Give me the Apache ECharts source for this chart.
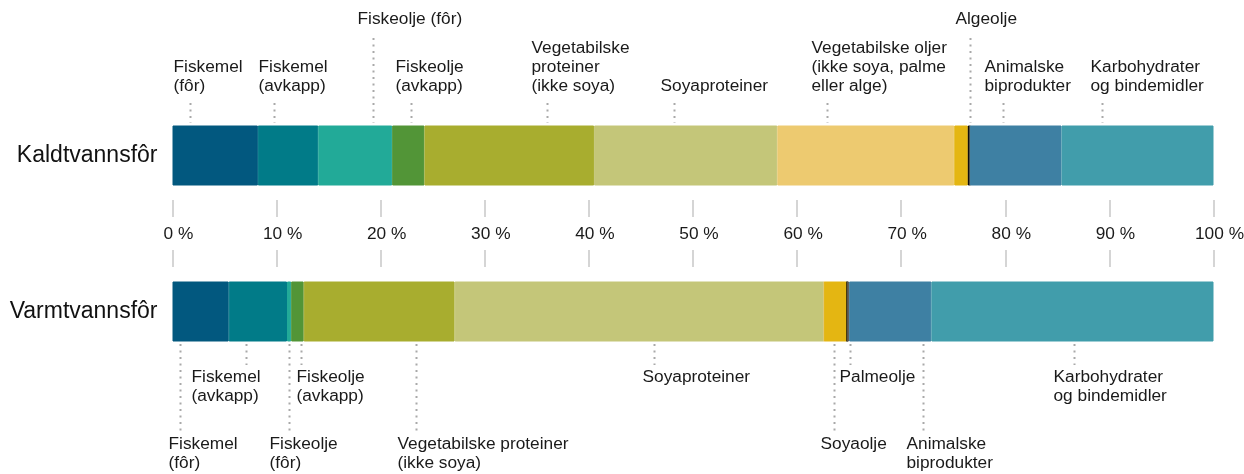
<!DOCTYPE html>
<html>
	<head>
		<meta charset="UTF-8">
		<title>Fôrråvarer</title>
		<script type="text/javascript" src="https://cdn.jsdelivr.net/npm/echarts@6/dist/echarts.min.js"></script>
		<style>
			html,body{margin:0;padding:0;background:#fff;}
		</style>
	</head>
	<body>
		<div id="main" style="width:1244px;height:474px;"></div>
		<script type="text/javascript">
			// kategorier (rekkefølge i stolpene)
			var ingredients=['Fiskemel (fôr)','Fiskemel (avkapp)','Fiskeolje (fôr)','Fiskeolje (avkapp)',
				'Vegetabilske proteiner (ikke soya)','Soyaproteiner','Vegetabilske oljer (ikke soya, palme eller alge)',
				'Soyaolje','Algeolje','Palmeolje','Animalske biprodukter','Karbohydrater og bindemidler'];
			// andel i prosent
			var coldFeed=[8.2,5.8,7.1,3.1,16.3,17.6,17.0,1.3,0.2,0,8.8,14.6];
			var warmFeed=[5.4,5.6,0.4,1.2,14.5,35.5,0,2.2,0,0.2,7.9,27.1];
			var feedNames=['Kaldtvannsfôr','Varmtvannsfôr'];
			var xTicks=[0,100,10];

			// merkelapper over/under stolpene: tekst og hvor streken treffer (prosent)
			var coldNotes=['Fiskemel\n(fôr)','Fiskemel\n(avkapp)','Fiskeolje (fôr)','Fiskeolje\n(avkapp)',
				'Vegetabilske\nproteiner\n(ikke soya)','Soyaproteiner','Vegetabilske oljer\n(ikke soya, palme\neller alge)',
				'Algeolje','Animalske\nbiprodukter','Karbohydrater\nog bindemidler'];
			var coldNoteAt=[1.7,9.75,19.25,22.9,36.0,48.2,62.9,76.6,79.8,89.3];
			var warmNotes=['Fiskemel\n(fôr)','Fiskemel\n(avkapp)','Fiskeolje\n(fôr)','Fiskeolje\n(avkapp)',
				'Vegetabilske proteiner\n(ikke soya)','Soyaproteiner','Soyaolje','Palmeolje',
				'Animalske\nbiprodukter','Karbohydrater\nog bindemidler'];
			var warmNoteAt=[0.72,7.06,11.2,12.3,23.4,46.3,63.5,65.1,72.05,86.6];

			// plassering av merkelappene (px i forhold til streken) og lang/kort strek
			var coldDx=[-17,-16,-16,-16,-16,-14,-16,-15,-19,-12];
			var coldLong=[0,0,1,0,0,0,0,1,0,0];
			var warmDx=[-12,-55,-20,-5,-19,-12,-14,-11,-17,-21];
			var warmLong=[1,0,1,0,1,0,1,0,1,0];

			var colors=['#02587f','#017b88','#22aa98','#529537','#a8ad2f','#c4c679','#edca70',
				'#e4b612','#000000','#5a5852','#3e80a3','#419dab'];

			var FONT='"Liberation Sans", Arial, Helvetica, sans-serif';
			var HALF=30.5;

			var myChart=echarts.init(document.getElementById('main'));

			function noteSeries(gridIdx,notes,at,dx,isLong){
				return {
					type:'custom',
					xAxisIndex:gridIdx,
					yAxisIndex:gridIdx,
					silent:true,
					data:at.map(function(v){return [v,0];}),
					renderItem:function(params,api){
						var i=params.dataIndex;
						var p=api.coord([api.value(0),0]);
						var x=Math.round(p[0])+0.5;
						var y1,y2,ty,va;
						if(gridIdx===0){
							var top=p[1]-HALF;
							y1=isLong[i]?top-87:top-22;
							y2=top-2;
							ty=isLong[i]?top-96:top-29;
							va='bottom';
						}else{
							var bot=p[1]+HALF;
							y1=bot+2;
							y2=isLong[i]?bot+89:bot+23;
							ty=isLong[i]?bot+93:bot+25.5;
							va='top';
						}
						return {
							type:'group',
							children:[{
								type:'line',
								shape:{x1:x,y1:y1,x2:x,y2:y2},
								style:{stroke:'#a9a9a9',lineWidth:2,lineDash:[2,4.5]}
							},{
								type:'text',
								x:x+dx[i],
								y:ty,
								style:{
									text:notes[i],
									fill:'#1a1a1a',
									fontSize:17.3,
									fontFamily:FONT,
									lineHeight:19,
									align:'left',
									verticalAlign:va
								}
							}]
						};
					}
				};
			}

			// kant i samme farge, så det ikke blir hvite striper mellom feltene
			function barStyle(j){
				return {color:colors[j],borderColor:colors[j],borderWidth:1};
			}

			var series=[];
			ingredients.forEach(function(name,j){
				series.push({
					name:name,type:'bar',stack:'kald',xAxisIndex:0,yAxisIndex:0,
					barWidth:60,itemStyle:barStyle(j),data:[coldFeed[j]]
				});
				series.push({
					name:name,type:'bar',stack:'varm',xAxisIndex:1,yAxisIndex:1,
					barWidth:60,itemStyle:barStyle(j),data:[warmFeed[j]]
				});
			});
			series.push(noteSeries(0,coldNotes,coldNoteAt,coldDx,coldLong));
			series.push(noteSeries(1,warmNotes,warmNoteAt,warmDx,warmLong));

			var option={
				animation:false,
				textStyle:{fontFamily:FONT},
				grid:[
					{left:172.5,right:30.5,top:125,height:61,outerBoundsMode:'none',containLabel:false},
					{left:172.5,right:30.5,top:281,height:61,outerBoundsMode:'none',containLabel:false}
				],
				xAxis:[{
					gridIndex:0,type:'value',min:xTicks[0],max:xTicks[1],interval:xTicks[2],
					position:'bottom',offset:14,
					axisLine:{show:false},
					splitLine:{show:false},
					axisTick:{show:true,length:17,lineStyle:{color:'#c8c8c8',width:1.5}},
					axisLabel:{
						formatter:'{value} %',margin:26,fontSize:17.3,color:'#1a1a1a',
						fontFamily:FONT,padding:[0,0,0,12],showMinLabel:true,showMaxLabel:true
					}
				},{
					gridIndex:1,type:'value',min:xTicks[0],max:xTicks[1],interval:xTicks[2],
					position:'top',offset:14,
					axisLine:{show:false},
					splitLine:{show:false},
					axisTick:{show:true,length:17,lineStyle:{color:'#c8c8c8',width:1.5}},
					axisLabel:{show:false}
				}],
				yAxis:[{
					gridIndex:0,type:'category',data:[feedNames[0]],
					axisLine:{show:false},axisTick:{show:false},
					axisLabel:{fontSize:23,color:'#111',margin:15,fontFamily:FONT}
				},{
					gridIndex:1,type:'category',data:[feedNames[1]],
					axisLine:{show:false},axisTick:{show:false},
					axisLabel:{fontSize:23,color:'#111',margin:15,fontFamily:FONT}
				}],
				series:series
			};

			myChart.setOption(option);
		</script>
	</body>
</html>
